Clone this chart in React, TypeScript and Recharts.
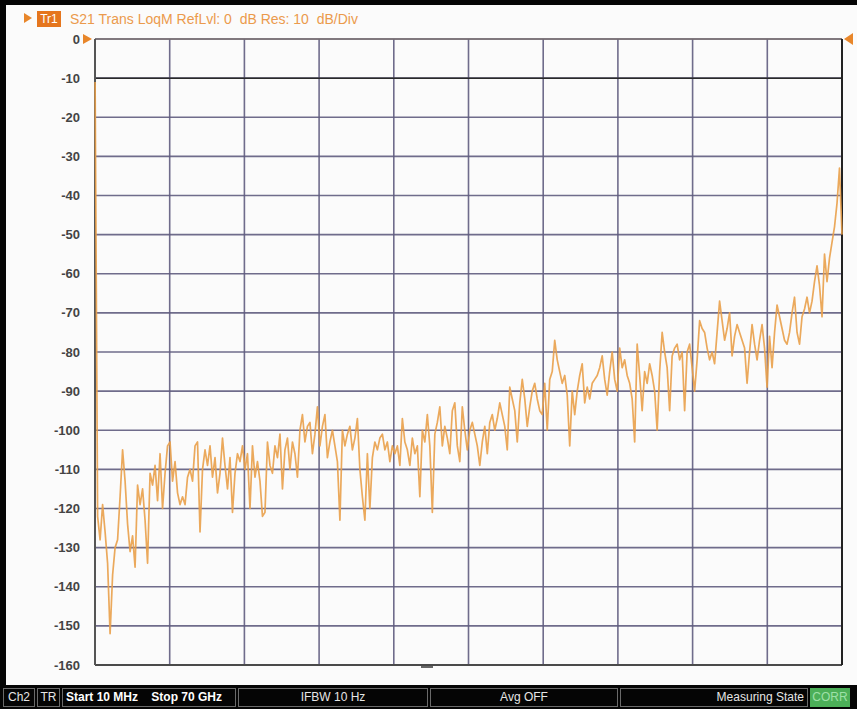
import React from "react";
import { LineChart, Line, XAxis, YAxis, CartesianGrid, ReferenceLine } from "recharts";

// Stimulus sweep: 10 MHz .. 70 GHz, linear, 300 points
const START_GHZ = 0.01;
const STOP_GHZ = 70;

// S21 magnitude trace (dB)
const s21Db: number[] = [
  -11, -122, -128, -119, -126, -134, -152, -137, -130, -128,
  -117, -105, -113, -124, -131, -127, -135, -114, -119, -115,
  -123, -134, -111, -114, -109, -118, -106, -120, -111, -104,
  -103, -113, -108, -116, -119, -117, -119, -112, -110, -113,
  -104, -103, -126, -110, -105, -109, -104, -112, -107, -116,
  -111, -102, -109, -115, -107, -121, -111, -106, -108, -104,
  -110, -106, -120, -104, -112, -108, -113, -122, -121, -103,
  -109, -111, -104, -107, -101, -115, -105, -102, -110, -103,
  -106, -112, -100, -96, -103, -99, -98, -106, -101, -94,
  -104, -99, -96, -107, -103, -100, -104, -108, -123, -100,
  -104, -101, -99, -105, -102, -97, -110, -117, -123, -106,
  -120, -107, -103, -105, -102, -101, -105, -103, -108, -104,
  -106, -104, -109, -97, -103, -105, -109, -102, -106, -104,
  -117, -100, -103, -96, -104, -121, -101, -98, -94, -104,
  -99, -102, -106, -95, -93, -104, -108, -94, -100, -105,
  -100, -98, -101, -104, -109, -103, -99, -106, -98, -96,
  -100, -97, -93, -96, -99, -105, -89, -92, -95, -103,
  -93, -87, -92, -99, -94, -90, -88, -92, -95, -96,
  -88, -100, -87, -85, -77, -82, -85, -88, -86, -91,
  -104, -90, -96, -90, -86, -83, -93, -89, -92, -88,
  -87, -86, -84, -81, -87, -91, -85, -80, -87, -90,
  -79, -84, -82, -86, -88, -92, -103, -78, -86, -95,
  -85, -88, -83, -86, -90, -100, -85, -75, -80, -84,
  -95, -81, -79, -78, -82, -80, -95, -80, -78, -84,
  -90, -82, -72, -74, -75, -79, -82, -80, -83, -75,
  -67, -72, -77, -74, -70, -81, -76, -73, -75, -77,
  -79, -88, -80, -73, -78, -82, -77, -73, -79, -89,
  -76, -84, -75, -68, -71, -74, -77, -78, -75, -70,
  -66, -75, -78, -71, -69, -66, -70, -67, -62, -58,
  -63, -71, -55, -62, -56, -52, -48, -42, -33, -50,
];

const yTicks: number[] = [0, -10, -20, -30, -40, -50, -60, -70, -80, -90, -100, -110, -120, -130, -140, -150, -160];
const xGridGHz: number[] = [7, 14, 21, 28, 35, 42, 49, 56, 63];

const headerText = "S21 Trans LoqM RefLvl: 0  dB Res: 10  dB/Div";
const traceLabel = "Tr1";

const data = s21Db.map((db, i) => ({
  f: START_GHZ + (i * (STOP_GHZ - START_GHZ)) / (s21Db.length - 1),
  db,
}));

const ORANGE = "#e8862a";
const TRACE = "#e9a04a";
const GRID = "#5f5c7e";

const statusBox = (left: number, width: number, extra: React.CSSProperties = {}): React.CSSProperties => ({
  position: "absolute",
  left,
  top: 688,
  width,
  height: 19,
  boxSizing: "border-box",
  border: "1px solid #6a6a6a",
  color: "#e6e6e6",
  fontFamily: "'Liberation Sans', Arial, sans-serif",
  fontSize: 12,
  lineHeight: "17px",
  whiteSpace: "pre",
  ...extra,
});

export default function App() {
  return (
    <div
      style={{
        position: "fixed",
        left: 0,
        top: 0,
        width: 857,
        height: 709,
        background: "#fbfbfb",
        overflow: "hidden",
      }}
    >
      {/* frame */}
      <div style={{ position: "absolute", left: 0, top: 0, width: 857, height: 5, background: "#050505" }} />
      <div style={{ position: "absolute", left: 0, top: 0, width: 6, height: 709, background: "#050505" }} />
      <div style={{ position: "absolute", left: 0, top: 685, width: 857, height: 24, background: "#050505" }} />

      <div style={{ position: "absolute", left: 0, top: 0 }}>
        <LineChart width={857} height={709} data={data} margin={{ top: 39, right: 15, bottom: 44, left: 10 }}>
          <XAxis type="number" dataKey="f" domain={[0, 70]} hide />
          <YAxis
            type="number"
            domain={[-160, 0]}
            ticks={yTicks}
            interval={0}
            width={85}
            axisLine={false}
            tickLine={false}
            tickMargin={9}
            allowDataOverflow
            tick={{ fill: "#444", fontSize: 13, fontWeight: 700, fontFamily: "'Liberation Sans', Arial, sans-serif" }}
          />
          <CartesianGrid horizontal vertical={false} stroke={GRID} strokeWidth={1.6} strokeOpacity={0.9} />
          {xGridGHz.map((x) => (
            <ReferenceLine key={x} x={x} stroke={GRID} strokeWidth={1.6} strokeOpacity={0.9} />
          ))}
          <ReferenceLine y={-10} stroke="#2a2a2a" strokeWidth={1.5} />
          <ReferenceLine y={0} stroke="#7a7070" strokeWidth={1.5} />
          <ReferenceLine y={-160} stroke="#4a4a4a" strokeWidth={2} />
          <ReferenceLine x={0} stroke="#555" strokeWidth={2} />
          <ReferenceLine x={70} stroke="#222" strokeWidth={2} />
          <Line
            type="linear"
            dataKey="db"
            stroke={TRACE}
            strokeOpacity={0.9}
            strokeWidth={1.7}
            strokeLinejoin="round"
            dot={false}
            isAnimationActive={false}
          />
        </LineChart>
      </div>

      {/* header */}
      <svg style={{ position: "absolute", left: 0, top: 0 }} width={857} height={60}>
        <polygon points="24,13 32,18 24,23" fill={ORANGE} />
        <polygon points="83,34 92,39 83,44" fill={ORANGE} />
        <polygon points="853,33 844,39 853,45" fill={ORANGE} />
      </svg>
      <div
        style={{
          position: "absolute",
          left: 37,
          top: 11,
          width: 24,
          height: 16,
          background: "#e5761e",
          color: "#fff",
          fontFamily: "'Liberation Sans', Arial, sans-serif",
          fontSize: 12,
          lineHeight: "16px",
          textAlign: "center",
        }}
      >
        {traceLabel}
      </div>
      <div
        style={{
          position: "absolute",
          left: 70,
          top: 10,
          color: "#eb9a4c",
          fontFamily: "'Liberation Sans', Arial, sans-serif",
          fontSize: 14,
          lineHeight: "18px",
          whiteSpace: "pre",
        }}
      >
        {headerText}
      </div>

      {/* marker dash below axis */}
      <div style={{ position: "absolute", left: 421, top: 666, width: 12, height: 2, background: "#666" }} />

      {/* status bar */}
      <div style={statusBox(3, 32, { textAlign: "center" })}>Ch2</div>
      <div style={statusBox(37, 23, { textAlign: "center" })}>TR</div>
      <div style={statusBox(62, 174, { fontWeight: 700, color: "#fff", paddingLeft: 3 })}>{"Start 10 MHz    Stop 70 GHz"}</div>
      <div style={statusBox(238, 190, { textAlign: "center" })}>IFBW 10 Hz</div>
      <div style={statusBox(430, 188, { textAlign: "center" })}>Avg OFF</div>
      <div style={statusBox(620, 188, { textAlign: "right", paddingRight: 3 })}>Measuring State</div>
      <div style={statusBox(810, 40, { textAlign: "center", background: "#4caf58", color: "#9fe0a8", border: "1px solid #4caf58" })}>CORR</div>
    </div>
  );
}
